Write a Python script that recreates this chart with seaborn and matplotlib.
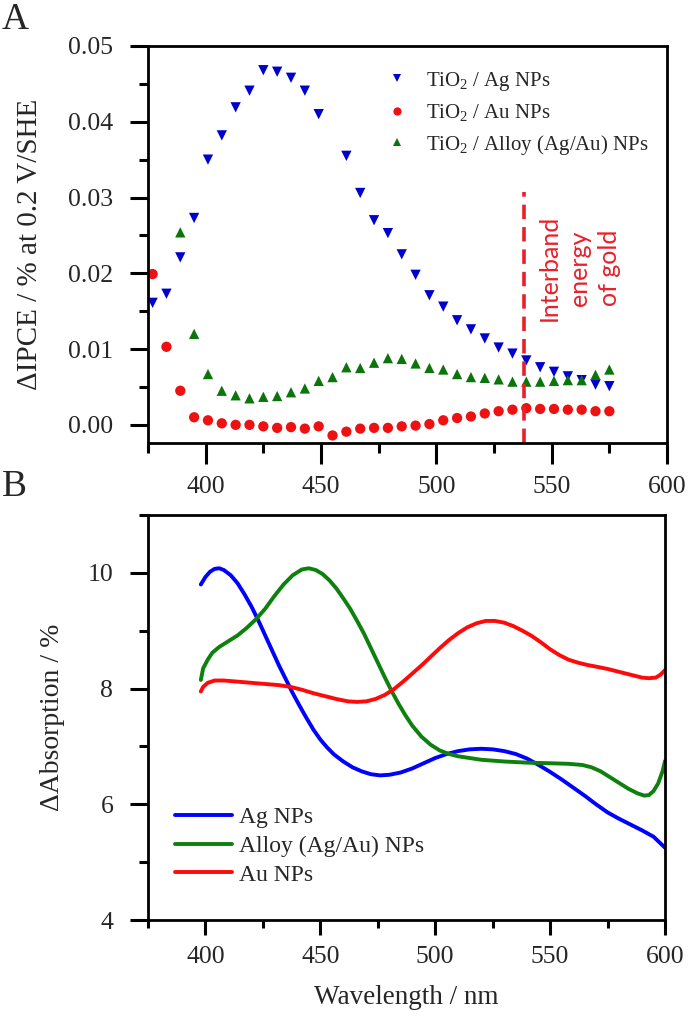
import numpy as np
import pandas as pd
import matplotlib
matplotlib.use("Agg")
import matplotlib.pyplot as plt
from matplotlib.ticker import MultipleLocator, FormatStrFormatter
import seaborn as sns

# ---------------- data: panel A (IPCE difference) ----------------
wl_ipce = [377, 383, 389, 395, 401, 407, 413, 419, 425, 431, 437, 443, 449, 455,
           461, 467, 473, 479, 485, 491, 497, 503, 509, 515, 521, 527, 533, 539,
           545, 551, 557, 563, 569, 575]
ipce_ag = [0.0161, 0.0173, 0.0221, 0.0273, 0.0350, 0.0382, 0.0419, 0.0441, 0.0468,
           0.0466, 0.0458, 0.0441, 0.0410, np.nan, 0.0355, 0.0306, 0.0270, 0.0253,
           0.0225, 0.0198, 0.0171, 0.0156, 0.0138, 0.0126, 0.0114, 0.0102, 0.0094,
           0.0085, 0.0076, 0.0070, 0.0064, 0.0059, 0.0053, 0.0051]
ipce_au = [0.0199, 0.0103, 0.0045, 0.0010, 0.0006, 0.0002, 0.0000, 0.0000, -0.0002,
           -0.0004, -0.0003, -0.0005, -0.0002, -0.0014, -0.0009, -0.0005, -0.0004,
           -0.0004, -0.0002, -0.0001, 0.0001, 0.0006, 0.0009, 0.0011, 0.0015, 0.0018,
           0.0020, 0.0022, 0.0021, 0.0021, 0.0020, 0.0020, 0.0018, 0.0018]
ipce_alloy = [np.nan, np.nan, 0.0254, 0.0120, 0.0067, 0.0045, 0.0039, 0.0035, 0.0037,
              0.0038, 0.0043, 0.0048, 0.0058, 0.0063, 0.0076, 0.0075, 0.0082, 0.0088,
              0.0087, 0.0081, 0.0075, 0.0073, 0.0067, 0.0063, 0.0062, 0.0060, 0.0057,
              0.0057, 0.0057, 0.0058, 0.0059, 0.0059, 0.0066, 0.0073]
labels_A = ["TiO$_2$ / Ag NPs", "TiO$_2$ / Au NPs", "TiO$_2$ / Alloy (Ag/Au) NPs"]
interband_wl = 538

# ---------------- data: panel B (absorption difference) ----------------
wl_ag = [398, 400, 402, 404, 406, 408, 411, 414, 417, 420, 423, 426, 429, 432, 435,
         438, 441, 444, 447, 450, 453, 456, 460, 464, 468, 472, 476, 480, 485, 490,
         495, 500, 505, 510, 515, 520, 525, 530, 535, 540, 545, 550, 555, 560, 565,
         570, 575, 580, 585, 590, 595, 600]
abs_ag = [9.80, 9.93, 10.02, 10.07, 10.08, 10.05, 9.96, 9.82, 9.63, 9.42, 9.18, 8.92,
          8.66, 8.40, 8.16, 7.92, 7.70, 7.49, 7.29, 7.12, 6.98, 6.86, 6.74, 6.64, 6.57,
          6.52, 6.50, 6.51, 6.55, 6.62, 6.71, 6.80, 6.87, 6.92, 6.95, 6.96, 6.95, 6.92,
          6.87, 6.79, 6.68, 6.56, 6.43, 6.29, 6.15, 6.00, 5.86, 5.75, 5.65, 5.55, 5.44,
          5.25]
wl_alloy = [398, 399, 401, 403, 406, 410, 414, 418, 422, 426, 430, 434, 438, 442, 445,
            448, 451, 454, 457, 460, 463, 466, 469, 472, 475, 478, 481, 484, 487, 490,
            494, 498, 502, 506, 510, 515, 520, 530, 540, 550, 558, 564, 568, 572, 576,
            580, 584, 588, 591, 593, 595, 597, 599, 600]
abs_alloy = [8.15, 8.35, 8.50, 8.62, 8.72, 8.82, 8.92, 9.05, 9.20, 9.38, 9.60, 9.80,
             9.96, 10.06, 10.08, 10.05, 9.98, 9.87, 9.73, 9.56, 9.38, 9.17, 8.95, 8.70,
             8.45, 8.20, 7.96, 7.74, 7.54, 7.36, 7.17, 7.03, 6.93, 6.87, 6.83, 6.80,
             6.77, 6.74, 6.72, 6.71, 6.70, 6.68, 6.64, 6.57, 6.47, 6.37, 6.27, 6.19,
             6.15, 6.16, 6.23, 6.36, 6.58, 6.75]
wl_au = [398, 399, 401, 404, 408, 414, 420, 426, 432, 437, 442, 447, 452, 457, 462,
         466, 470, 474, 478, 482, 486, 490, 494, 498, 502, 506, 510, 514, 518, 522,
         526, 530, 534, 538, 542, 546, 550, 554, 558, 562, 566, 570, 575, 580, 585,
         590, 593, 596, 598, 600]
abs_au = [7.95, 8.03, 8.10, 8.14, 8.14, 8.12, 8.10, 8.08, 8.06, 8.03, 7.98, 7.92,
          7.87, 7.82, 7.78, 7.77, 7.78, 7.82, 7.89, 7.99, 8.12, 8.26, 8.40, 8.55,
          8.70, 8.84, 8.96, 9.06, 9.13, 9.17, 9.17, 9.14, 9.08, 9.00, 8.91, 8.80,
          8.68, 8.58, 8.50, 8.45, 8.41, 8.38, 8.34, 8.29, 8.24, 8.19, 8.18, 8.19,
          8.24, 8.32]
labels_B = ["Ag NPs", "Alloy (Ag/Au) NPs", "Au NPs"]

# ---------------- long tables for seaborn ----------------
n = len(wl_ipce)
dfA = pd.DataFrame({
    "wl": wl_ipce * 3,
    "val": ipce_ag + ipce_au + ipce_alloy,
    "series": [labels_A[0]] * n + [labels_A[1]] * n + [labels_A[2]] * n,
}).dropna()

dfB = pd.concat([
    pd.DataFrame({"wl": wl_ag, "val": abs_ag, "series": labels_B[0]}),
    pd.DataFrame({"wl": wl_alloy, "val": abs_alloy, "series": labels_B[1]}),
    pd.DataFrame({"wl": wl_au, "val": abs_au, "series": labels_B[2]}),
], ignore_index=True)

# ---------------- style ----------------
sns.set_style("ticks")
plt.rcParams["font.family"] = ["Liberation Serif", "DejaVu Serif"]
plt.rcParams["mathtext.fontset"] = "custom"
plt.rcParams["mathtext.rm"] = "Liberation Serif"
plt.rcParams["mathtext.it"] = "Liberation Serif:italic"
plt.rcParams["axes.linewidth"] = 2.0
plt.rcParams["axes.edgecolor"] = "black"

pal_A = {labels_A[0]: "#0000CD", labels_A[1]: "#EE1111", labels_A[2]: "#0B750B"}
mk_A = {labels_A[0]: "v", labels_A[1]: "o", labels_A[2]: "^"}
pal_B = {labels_B[0]: "#0000FF", labels_B[1]: "#0E800E", labels_B[2]: "#FF0A0A"}

fig = plt.figure(figsize=(6.88, 10.26), dpi=100)
axA = fig.add_axes([0.2151, 0.5682, 0.7544, 0.387])
axB = fig.add_axes([0.2151, 0.1033, 0.7515, 0.3947])


def style_axis(ax, xlen, xpad):
    ax.xaxis.set_major_locator(MultipleLocator(50))
    ax.xaxis.set_minor_locator(MultipleLocator(25))
    ax.tick_params(which="both", direction="out", top=False, right=False,
                   width=2.2, labelsize=18.5, color="black")
    ax.tick_params(axis="y", which="major", length=13, pad=12)
    ax.tick_params(axis="y", which="minor", length=6.5)
    ax.tick_params(axis="x", which="major", length=xlen, pad=xpad)
    ax.tick_params(axis="x", which="minor", length=xlen / 2)
    for sp in ax.spines.values():
        sp.set_visible(True)
        sp.set_linewidth(2.0)


# ---------------- panel A ----------------
sns.scatterplot(data=dfA, x="wl", y="val", hue="series", style="series",
                hue_order=labels_A, style_order=labels_A, palette=pal_A,
                markers=mk_A, s=55, linewidth=0, ax=axA)
axA.set_xlim(375, 600)
axA.set_ylim(-0.0024, 0.05)
axA.yaxis.set_major_locator(MultipleLocator(0.01))
axA.yaxis.set_minor_locator(MultipleLocator(0.005))
axA.yaxis.set_major_formatter(FormatStrFormatter("%.2f"))
style_axis(axA, 15, 9)
axA.set_xlabel("")
axA.set_ylabel("ΔIPCE / % at 0.2 V/SHE", fontsize=21)
axA.yaxis.set_label_coords(-0.202, 0.5)

axA.vlines(interband_wl, -0.0024, 0.0307, colors="#E8202A", linewidth=2.6,
           linestyles=(0, (4.0, 2.2)))
axA.text(562, 0.0207, "Interband\nenergy\nof gold", rotation=90, color="#E8202A",
         family=["Lato", "DejaVu Sans"], fontsize=18, ha="center", va="center",
         multialignment="center", linespacing=1.35)

sns.move_legend(axA, "upper left", bbox_to_anchor=(0.46, 0.94), frameon=False,
                title=None, fontsize=15, handletextpad=0.9, borderpad=0,
                borderaxespad=0, labelspacing=0.45, markerscale=0.8, handlelength=1.0)

# ---------------- panel B ----------------
sns.lineplot(data=dfB, x="wl", y="val", hue="series", hue_order=labels_B,
             palette=pal_B, linewidth=2.8, estimator=None, sort=False, ax=axB)
axB.set_xlim(375, 600)
axB.set_ylim(4, 11)
axB.yaxis.set_major_locator(MultipleLocator(2))
axB.yaxis.set_minor_locator(MultipleLocator(1))
style_axis(axB, 11, 8)
axB.set_xlabel("Wavelength / nm", fontsize=19.5, labelpad=12)
axB.set_ylabel("ΔAbsorption / %", fontsize=20)
axB.yaxis.set_label_coords(-0.16, 0.5)

sns.move_legend(axB, "lower left", bbox_to_anchor=(0.052, 0.085), frameon=False,
                title=None, fontsize=17, handletextpad=0.3, borderpad=0,
                borderaxespad=0, labelspacing=0.3, handlelength=2.4)

fig.text(0.003, 0.981, "A", fontsize=27, ha="left", va="center")
fig.text(0.003, 0.526, "B", fontsize=27, ha="left", va="center")

fig.savefig("out.png", dpi=100)
